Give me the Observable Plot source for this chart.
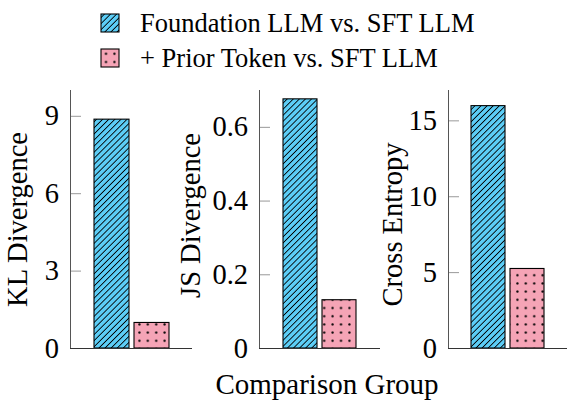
<!DOCTYPE html>
<html><head><meta charset="utf-8">
<script src="https://cdn.jsdelivr.net/npm/d3@7"></script>
<script src="https://cdn.jsdelivr.net/npm/@observablehq/plot@0.6"></script>
<style>
body{margin:0;background:#fff;}
#wrap{position:relative;width:567px;height:402px;overflow:hidden;background:#fff;font-family:"Liberation Serif","Times New Roman",serif;}
#wrap svg{position:absolute;left:0;top:0;}
#wrap svg text{font-family:"Liberation Serif","Times New Roman",serif !important;}
</style></head><body><div id="wrap"></div>
<script>
// ---- data ----
const series = ["Foundation LLM vs. SFT LLM", "+ Prior Token vs. SFT LLM"];
const metrics = ["KL Divergence", "JS Divergence", "Cross Entropy"];
const klValues = [8.87, 0.99];
const jsValues = [0.676, 0.131];
const ceValues = [15.97, 5.24];
const klTicks = [0, 3, 6, 9];
const jsTicks = [0, 0.2, 0.4, 0.6];
const ceTicks = [0, 5, 10, 15];
const klTickLabels = ["0", "3", "6", "9"];
const jsTickLabels = ["0", "0.2", "0.4", "0.6"];
const ceTickLabels = ["0", "5", "10", "15"];
const xLabel = "Comparison Group";

// ---- styles ----
const W = 567, H = 402;
const FONT = "'Liberation Serif','Times New Roman',serif";
const fills = ["url(#hatch)", "url(#dots)"];
const legendFills = ["url(#hatchL)", "url(#dotsL)"];
const panels = [
  {label: metrics[0], values: klValues, ticks: klTicks, tickLabels: klTickLabels, domain: [0, 10], left: 70, right: 192, labelDx: -63.5, labelDy: 0},
  {label: metrics[1], values: jsValues, ticks: jsTicks, tickLabels: jsTickLabels, domain: [0, 0.7], left: 259, right: 380, labelDx: -79.5, labelDy: -4},
  {label: metrics[2], values: ceValues, ticks: ceTicks, tickLabels: ceTickLabels, domain: [0, 17], left: 448, right: 567, labelDx: -66.5, labelDy: 5}
];

const wrap = document.getElementById("wrap");

// overlay svg: pattern defs, legend, x label
const over = d3.create("svg").attr("width", W).attr("height", H).style("pointer-events", "none");
const defs = over.append("defs");
function hatch(id) {
  const p = defs.append("pattern").attr("id", id).attr("patternUnits", "userSpaceOnUse")
    .attr("width", 4.3).attr("height", 4.3).attr("patternTransform", "rotate(45)");
  p.append("rect").attr("width", 4.3).attr("height", 4.3).attr("fill", "#5ccdf6");
  p.append("line").attr("x1", 2.15).attr("x2", 2.15).attr("y1", -1).attr("y2", 5.3).attr("stroke", "#000").attr("stroke-width", 0.9);
}
function dots(id, ox, oy) {
  const p = defs.append("pattern").attr("id", id).attr("patternUnits", "userSpaceOnUse")
    .attr("width", 8.4).attr("height", 8.2).attr("x", ox).attr("y", oy);
  p.append("rect").attr("width", 8.4).attr("height", 8.2).attr("fill", "#f5a4b6");
  p.append("circle").attr("cx", 4.2).attr("cy", 4.1).attr("r", 1.15).attr("fill", "#000");
}
hatch("hatch"); hatch("hatchL");
dots("dots", 0.8, 0.5); dots("dotsL", 1, 0.5);

panels.forEach((p, i) => {
  const data = series.map((s, j) => ({series: s, value: p.values[j], fill: fills[j]}));
  const chart = Plot.plot({
    width: W, height: H,
    marginTop: 90, marginBottom: 54, marginLeft: p.left, marginRight: W - p.right,
    style: {background: "transparent", overflow: "visible", fontFamily: FONT},
    x: {domain: series, axis: null, paddingInner: 0.135, paddingOuter: 0.59},
    y: {domain: p.domain, label: null},
    color: {type: "identity"},
    marks: [
      Plot.barY(data, {x: "series", y: "value", fill: "fill", stroke: "#000", strokeWidth: 1.1}),
      Plot.axisY(p.ticks, {tickSize: -11, tickPadding: 22.5, stroke: "#999", fill: "#000", fontSize: 28.5,
        tickFormat: (d) => p.tickLabels[p.ticks.indexOf(d)], label: null}),
      Plot.frame({anchor: "left", stroke: "#555", strokeWidth: 1}),
      Plot.ruleY([0], {stroke: "#333", strokeWidth: 1}),
      Plot.text([p.label], {frameAnchor: "left", rotate: -90, dx: p.labelDx, dy: p.labelDy, lineAnchor: "top", textAnchor: "middle",
        text: (d) => d, fontSize: 28.5, fill: "#000"})
    ]
  });
  wrap.appendChild(chart);
});

// legend
series.forEach((s, j) => {
  const y0 = 14 + j * 35;
  over.append("rect").attr("x", 101).attr("y", y0).attr("width", 18).attr("height", 18)
    .attr("fill", legendFills[j]).attr("stroke", "#000").attr("stroke-width", 1.1);
  over.append("text").attr("x", 140).attr("y", y0 + 18).attr("font-size", 26.5)
    .attr("font-family", FONT).attr("fill", "#000").text(s);
});
over.append("text").attr("x", 327).attr("y", 394).attr("text-anchor", "middle").attr("font-size", 29)
  .attr("font-family", FONT).attr("fill", "#000").text(xLabel);

wrap.appendChild(over.node());
</script></body></html>
